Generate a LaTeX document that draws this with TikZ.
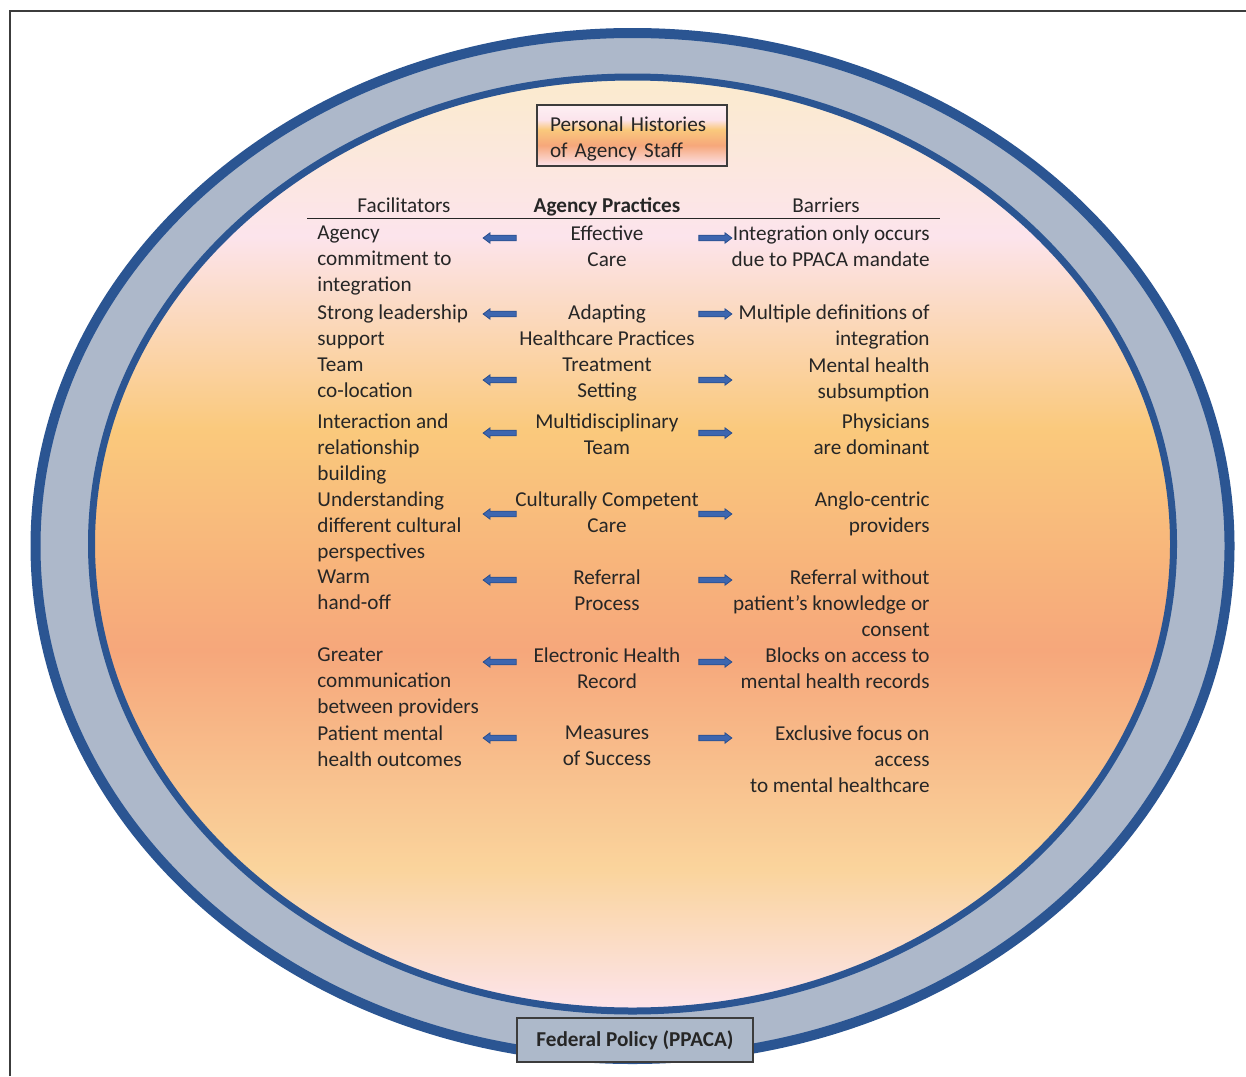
\documentclass[tikz,border=0pt]{standalone}
\usepackage{fontspec}
\setmainfont{Carlito}
\usetikzlibrary{shapes.arrows}
\definecolor{ringblue}{HTML}{2B5592}
\definecolor{bandgray}{HTML}{ADB8CA}
\definecolor{fedgray}{HTML}{ADB9CA}
\definecolor{arrowfill}{HTML}{3D66AF}
\definecolor{arrowline}{HTML}{2A4F8F}
\definecolor{txt}{HTML}{262626}
\definecolor{framegray}{HTML}{3C3C3C}
\definecolor{pinkA}{HTML}{FCE4EC}
\definecolor{lorange}{HTML}{FAD49C}
\definecolor{salmonC}{HTML}{F6A77B}
\definecolor{yorange}{HTML}{FAC97C}
\definecolor{creamC}{HTML}{FBEBCD}
\definecolor{boxtop}{HTML}{FDF0F3}
\pgfdeclareverticalshading{sunset}{100bp}{color(0bp)=(pinkA); color(25bp)=(pinkA); color(32.6bp)=(lorange); color(44.3bp)=(salmonC); color(56.1bp)=(yorange); color(66.5bp)=(pinkA); color(75bp)=(creamC); color(100bp)=(creamC)}
\pgfdeclareverticalshading{boxsun}{100bp}{color(0bp)=(pinkA); color(25bp)=(pinkA); color(42bp)=(salmonC); color(55bp)=(yorange); color(63bp)=(pinkA); color(75bp)=(boxtop); color(100bp)=(boxtop)}
\newcommand{\bodyfont}{\fontsize{10.6}{13}\selectfont}
\begin{document}
\begin{tikzpicture}[x=0.5pt,y=-0.5pt,
  base/.style={inner sep=0pt, font=\bodyfont, text=txt},
  lefttxt/.style={base, anchor=north west, align=left, execute at begin node=\strut},
  midtxt/.style={base, anchor=north, align=center, execute at begin node=\strut},
  righttxt/.style={base, anchor=north east, align=right, execute at begin node=\strut},
  arrowbase/.style={single arrow, fill=arrowfill, draw=arrowline, line width=0.4pt,
    minimum height=16.5pt, single arrow head extend=1.2pt, inner xsep=0pt, inner ysep=1.2pt,
    single arrow tip angle=74, minimum width=0pt},
  larrow/.style={arrowbase, shape border rotate=180},
  rarrow/.style={arrowbase}]
\useasboundingbox (0,0) rectangle (1246,1076);
% frame
\coordinate (fbl) at (10,1076);
\coordinate (ftl) at (10,11);
\coordinate (ftr) at (1246,11);
\draw[framegray, line width=1pt] (fbl) -- (ftl) -- (ftr);
% rings
\path[fill=bandgray, draw=ringblue, line width=5pt] (632.5,546) ellipse [x radius=298.5pt, y radius=256.5pt];
\shadedraw[shading=sunset, draw=ringblue, line width=3.5pt] (632.5,544) ellipse [x radius=270.5pt, y radius=233.5pt];
% top box
\node[shade, shading=boxsun, draw=framegray, line width=0.6pt, font=\bodyfont, text=txt,
  align=left, text width=82pt, inner xsep=6.5pt, inner ysep=0pt, minimum height=30.5pt] (hist) at (632,135.5)
  {\rule{0pt}{11pt}Personal Histories\\of Agency Staff};
% header
\node[base, anchor=base] (hfac) at (404,212) {Facilitators};
\node[base, anchor=base, font=\bodyfont\bfseries] (hap) at (607,212) {Agency Practices};
\node[base, anchor=base] (hbar) at (826,212) {Barriers};
\coordinate (ruleL) at (307,218);
\coordinate (ruleR) at (940,218);
\draw[txt, line width=0.5pt] (ruleL) -- (ruleR);
% row 1
\node[lefttxt] (l1) at (317,225.3) {Agency\\commitment to\\integration};
\node[midtxt] (c1) at (607,225.3) {Effective\\Care};
\node[righttxt] (r1) at (930,225.3) {Integration only occurs\\due to PPACA mandate};
\node[larrow] (la1) at (501.5,238) {};
\node[rarrow] (ra1) at (713.5,238) {};
% row 2
\node[lefttxt] (l2) at (317,304.3) {Strong leadership\\support};
\node[midtxt] (c2) at (607,304.3) {Adapting\\Healthcare Practices};
\node[righttxt] (r2) at (930,304.3) {Multiple definitions of\\integration};
\node[larrow] (la2) at (501.5,314) {};
\node[rarrow] (ra2) at (713.5,314) {};
% row 3
\node[lefttxt] (l3) at (317,357.3) {Team\\co-location};
\node[midtxt] (c3) at (607,357.3) {Treatment\\Setting};
\node[righttxt] (r3) at (930,357.3) {Mental health\\subsumption};
\node[larrow] (la3) at (501.5,380) {};
\node[rarrow] (ra3) at (713.5,380) {};
% row 4
\node[lefttxt] (l4) at (317,413.3) {Interaction and\\relationship\\building};
\node[midtxt] (c4) at (607,413.3) {Multidisciplinary\\Team};
\node[righttxt] (r4) at (930,413.3) {Physicians\\are dominant};
\node[larrow] (la4) at (501.5,433) {};
\node[rarrow] (ra4) at (713.5,433) {};
% row 5
\node[lefttxt] (l5) at (317,491.3) {Understanding\\different cultural\\perspectives};
\node[midtxt] (c5) at (607,491.3) {Culturally Competent\\Care};
\node[righttxt] (r5) at (930,491.3) {Anglo-centric\\providers};
\node[larrow] (la5) at (501.5,514) {};
\node[rarrow] (ra5) at (713.5,514) {};
% row 6
\node[lefttxt] (l6) at (317,569.3) {Warm\\hand-off};
\node[midtxt] (c6) at (607,569.3) {Referral\\Process};
\node[righttxt] (r6) at (930,569.3) {Referral without\\patient’s knowledge or\\consent};
\node[larrow] (la6) at (501.5,580) {};
\node[rarrow] (ra6) at (713.5,580) {};
% row 7
\node[lefttxt] (l7) at (317,647.3) {Greater\\communication\\between providers};
\node[midtxt] (c7) at (607,647.3) {Electronic Health\\Record};
\node[righttxt] (r7) at (930,647.3) {Blocks on access to\\mental health records};
\node[larrow] (la7) at (501.5,662) {};
\node[rarrow] (ra7) at (713.5,662) {};
% row 8
\node[lefttxt] (l8) at (317,725.3) {Patient mental\\health outcomes};
\node[midtxt] (c8) at (607,725.3) {Measures\\of Success};
\node[righttxt] (r8) at (930,725.3) {Exclusive focus on\\access\\to mental healthcare};
\node[larrow] (la8) at (501.5,738) {};
\node[rarrow] (ra8) at (713.5,738) {};
% bottom box
\node[fill=fedgray, draw=framegray, line width=0.6pt, minimum width=118pt, minimum height=22pt,
  inner sep=0pt, font=\bodyfont\bfseries, text=txt] (fed) at (635,1040) {Federal Policy (PPACA)\hspace{4pt}};
\end{tikzpicture}
\end{document}
